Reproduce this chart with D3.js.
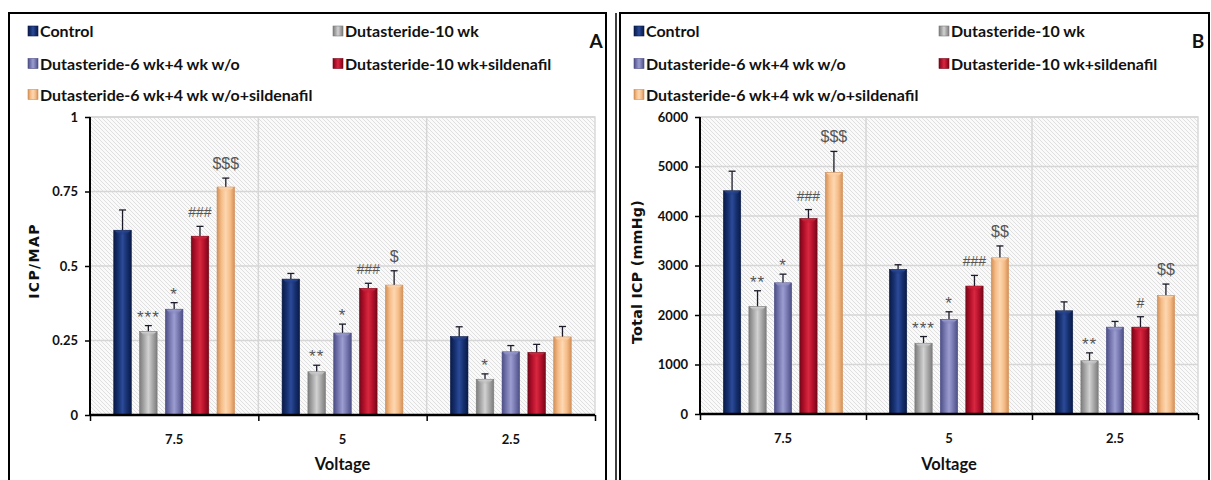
<!DOCTYPE html>
<html>
<head>
<meta charset="utf-8">
<script src="https://cdn.jsdelivr.net/npm/d3@7"></script>
<style>
  html, body { margin: 0; padding: 0; background: #fff; }
  svg { display: block; }
</style>
</head>
<body>
<svg id="chart" width="1211" height="480"></svg>
<script>
// Stimulation voltages on the x axis
const voltages = ["7.5", "5", "2.5"];

// Treatment groups (one bar per group inside each voltage)
const groups = [
  "Control",
  "Dutasteride-10 wk",
  "Dutasteride-6 wk+4 wk w/o",
  "Dutasteride-10 wk+sildenafil",
  "Dutasteride-6 wk+4 wk w/o+sildenafil"
];

// Panel A: ICP/MAP, mean and SEM per voltage, in group order
const icpMapMean = [
  [0.62, 0.28, 0.355, 0.60, 0.765],
  [0.456, 0.145, 0.275, 0.425, 0.436],
  [0.263, 0.12, 0.212, 0.21, 0.262]
];
const icpMapSem = [
  [0.068, 0.02, 0.022, 0.033, 0.03],
  [0.019, 0.022, 0.03, 0.017, 0.048],
  [0.033, 0.018, 0.021, 0.027, 0.035]
];
const icpMapMarks = [
  ["", "***", "*", "###", "$$$"],
  ["", "**", "*", "###", "$"],
  ["", "*", "", "", ""]
];
const icpMapTicks = [0, 0.25, 0.5, 0.75, 1];
const icpMapTickLabels = ["0", "0.25", "0.5", "0.75", "1"];

// Panel B: total ICP (mmHg), mean and SEM per voltage
const totalIcpMean = [
  [4510, 2170, 2650, 3950, 4880],
  [2920, 1430, 1910, 2585, 3155],
  [2085, 1075, 1755, 1755, 2395]
];
const totalIcpSem = [
  [395, 320, 175, 180, 425],
  [95, 135, 155, 215, 240],
  [180, 160, 115, 210, 230]
];
const totalIcpMarks = [
  ["", "**", "*", "###", "$$$"],
  ["", "***", "*", "###", "$$"],
  ["", "**", "", "#", "$$"]
];
const totalIcpTicks = [0, 1000, 2000, 3000, 4000, 5000, 6000];
const totalIcpTickLabels = ["0", "1000", "2000", "3000", "4000", "5000", "6000"];

// Bar palette: [edge, body, highlight]
const palette = [
  ["#0a1a48", "#16306e", "#2b4a99"],
  ["#7c7c7c", "#a6a6a6", "#d2d2d2"],
  ["#4c4e86", "#7476ad", "#9c9ed2"],
  ["#760818", "#b3102b", "#d8283f"],
  ["#d29058", "#f6bc87", "#fdd8b2"]
];

const svg = d3.select("#chart");
const defs = svg.append("defs");
const LABEL_FONT = "Lato, 'Open Sans', sans-serif";
const MARK_FONT = "'Liberation Sans', Arial, sans-serif";
const TITLE_FONT = "'DejaVu Sans', Verdana, sans-serif";

// Diagonal hatch for the plot area
const hatch = defs.append("pattern")
  .attr("id", "hatch").attr("patternUnits", "userSpaceOnUse")
  .attr("width", 4).attr("height", 4);
hatch.append("rect").attr("width", 4).attr("height", 4).attr("fill", "#fafafa");
hatch.append("path").attr("d", "M-1,-1L5,5M-1,3L1,5M3,-1L5,1")
  .attr("stroke", "#dcdcdc").attr("stroke-width", 0.9);

// Cylinder-like shading for each group colour
palette.forEach((c, i) => {
  const g = defs.append("linearGradient").attr("id", "bar" + i)
    .attr("x1", "0%").attr("x2", "100%").attr("y1", "0%").attr("y2", "0%");
  [[0, c[0]], [0.25, c[1]], [0.5, c[2]], [0.75, c[1]], [1, c[0]]].forEach(s =>
    g.append("stop").attr("offset", s[0]).attr("stop-color", s[1]));
  const cap = defs.append("linearGradient").attr("id", "cap" + i)
    .attr("x1", "0%").attr("x2", "0%").attr("y1", "0%").attr("y2", "100%");
  cap.append("stop").attr("offset", 0).attr("stop-color", c[2]);
  cap.append("stop").attr("offset", 1).attr("stop-color", c[1]).attr("stop-opacity", 0);
});

// Panel frames
svg.append("rect").attr("x", 9).attr("y", 13).attr("width", 597).attr("height", 480)
  .attr("fill", "none").attr("stroke", "#000").attr("stroke-width", 2);
svg.append("line").attr("x1", 616).attr("x2", 616).attr("y1", 13).attr("y2", 480)
  .attr("stroke", "#000").attr("stroke-width", 1.5);
svg.append("rect").attr("x", 620).attr("y", 13).attr("width", 589).attr("height", 480)
  .attr("fill", "none").attr("stroke", "#000").attr("stroke-width", 2);

function drawPanel(cfg) {
  const g = svg.append("g");
  const x = d3.scaleBand().domain(voltages).range([cfg.left, cfg.right]);
  const xi = d3.scaleBand().domain(d3.range(groups.length))
    .range([0, x.bandwidth()]).paddingInner(0.32).paddingOuter(0.92);
  const y = d3.scaleLinear().domain(cfg.domain).range([cfg.bottom, cfg.top]);

  // plot area
  g.append("rect").attr("x", cfg.left).attr("y", cfg.top)
    .attr("width", cfg.right - cfg.left).attr("height", cfg.bottom - cfg.top)
    .attr("fill", "url(#hatch)").attr("stroke", "#d9d9d9").attr("stroke-width", 1.5);

  // grid
  g.selectAll(".hgrid").data(cfg.ticks.slice(1)).enter().append("line")
    .attr("x1", cfg.left).attr("x2", cfg.right)
    .attr("y1", d => y(d)).attr("y2", d => y(d))
    .attr("stroke", "#d6d6d6").attr("stroke-width", 1.5);
  g.selectAll(".vgrid").data(voltages.slice(1)).enter().append("line")
    .attr("x1", d => x(d)).attr("x2", d => x(d))
    .attr("y1", cfg.top).attr("y2", cfg.bottom)
    .attr("stroke", "#d6d6d6").attr("stroke-width", 1.5);

  // bars
  voltages.forEach((v, vi) => {
    const gx = x(v);
    cfg.mean[vi].forEach((m, si) => {
      const bx = gx + xi(si), bw = xi.bandwidth();
      const top = y(m), err = y(m + cfg.sem[vi][si]);
      const cx = bx + bw / 2;
      // error bar (upper only)
      g.append("line").attr("x1", cx).attr("x2", cx).attr("y1", top).attr("y2", err)
        .attr("stroke", "#1b1b2a").attr("stroke-width", 1.3);
      g.append("line").attr("x1", cx - 3.5).attr("x2", cx + 3.5).attr("y1", err).attr("y2", err)
        .attr("stroke", "#1b1b2a").attr("stroke-width", 1.3);
      g.append("rect").attr("x", bx).attr("y", top).attr("width", bw)
        .attr("height", y(0) - top)
        .attr("fill", `url(#bar${si})`).attr("stroke", palette[si][0]).attr("stroke-width", 0.6);
      g.append("path")
        .attr("d", `M${bx + 1},${top + 0.5}L${bx + bw - 1},${top + 0.5}L${cx + 3},${top + 5}L${cx - 3},${top + 5}Z`)
        .attr("fill", `url(#cap${si})`);
      const mark = cfg.marks[vi][si];
      if (mark) {
        const star = mark[0] === "*";
        g.append("text").attr("x", cx).attr("y", err - (star ? 3 : 9))
          .attr("text-anchor", "middle")
          .attr("font-family", MARK_FONT)
          .attr("font-size", star ? 17 : (mark[0] === "$" ? 16 : 14))
          .attr("letter-spacing", star ? 1 : 0)
          .attr("fill", "#555").text(mark);
      }
    });
  });

  // axes
  const yAxis = d3.axisLeft(y).tickValues(cfg.ticks)
    .tickFormat((d, i) => cfg.tickLabels[i]).tickSize(5).tickPadding(7);
  const ya = g.append("g").attr("transform", `translate(${cfg.left},0)`).call(yAxis);
  ya.select(".domain").attr("stroke", "#000").attr("stroke-width", 2)
    .attr("d", `M0,${cfg.top}V${cfg.bottom}`);
  ya.selectAll(".tick line").attr("stroke", "#000").attr("stroke-width", 1.5);
  ya.selectAll("text").attr("font-family", LABEL_FONT).attr("font-weight", 700)
    .attr("font-size", 13).attr("fill", "#111");

  const xEdges = d3.axisBottom(d3.scaleLinear().domain([0, 3]).range([cfg.left, cfg.right]))
    .tickValues([0, 1, 2, 3]).tickFormat("").tickSize(6);
  const xa = g.append("g").attr("transform", `translate(0,${cfg.bottom})`).call(xEdges);
  xa.select(".domain").attr("stroke", "#000").attr("stroke-width", 2.5)
    .attr("d", `M${cfg.left},0H${cfg.right}`);
  xa.selectAll(".tick line").attr("stroke", "#000").attr("stroke-width", 1.5);

  const xLabels = d3.axisBottom(x).tickSize(0).tickPadding(20);
  const xl = g.append("g").attr("transform", `translate(0,${cfg.bottom})`).call(xLabels);
  xl.select(".domain").remove();
  xl.selectAll("text").attr("font-family", LABEL_FONT).attr("font-weight", 700)
    .attr("font-size", 13).attr("fill", "#111");

  // axis titles
  g.append("text").attr("x", (cfg.left + cfg.right) / 2).attr("y", 470)
    .attr("text-anchor", "middle").attr("font-family", LABEL_FONT)
    .attr("font-weight", 700).attr("font-size", 16.5).attr("fill", "#111").text("Voltage");
  g.append("text")
    .attr("transform", `translate(${cfg.yTitleX},${cfg.yTitleY}) rotate(-90)`)
    .attr("text-anchor", "middle").attr("font-family", TITLE_FONT)
    .attr("font-weight", 700).attr("font-size", cfg.yTitleSize)
    .attr("letter-spacing", cfg.yTitleSpacing).attr("fill", "#111").text(cfg.yTitle);

  // legend
  const cols = [cfg.legendX, cfg.legendX + 305];
  const rows = [37, 69.5, 100.5];
  groups.forEach((name, i) => {
    const lx = cols[i % 2], ly = rows[Math.floor(i / 2)];
    g.append("rect").attr("x", lx).attr("y", ly - 11).attr("width", 10).attr("height", 10)
      .attr("fill", `url(#bar${i})`).attr("stroke", palette[i][0]).attr("stroke-width", 0.6);
    g.append("text").attr("x", lx + 12).attr("y", ly)
      .attr("font-family", LABEL_FONT).attr("font-weight", 700).attr("font-size", 16)
      .attr("fill", "#111").text(name);
  });

  // panel letter
  g.append("text").attr("x", cfg.letterX).attr("y", 48).attr("text-anchor", "middle")
    .attr("font-family", LABEL_FONT).attr("font-weight", 700).attr("font-size", 19)
    .attr("fill", "#111").text(cfg.letter);
}

drawPanel({
  left: 90, right: 595, top: 117, bottom: 415,
  domain: [0, 1], ticks: icpMapTicks, tickLabels: icpMapTickLabels,
  mean: icpMapMean, sem: icpMapSem, marks: icpMapMarks,
  yTitle: "ICP/MAP", yTitleX: 38.5, yTitleY: 261, yTitleSize: 14, yTitleSpacing: 1.4,
  legendX: 28, letter: "A", letterX: 596
});

drawPanel({
  left: 700, right: 1198, top: 117, bottom: 414,
  domain: [0, 6000], ticks: totalIcpTicks, tickLabels: totalIcpTickLabels,
  mean: totalIcpMean, sem: totalIcpSem, marks: totalIcpMarks,
  yTitle: "Total ICP (mmHg)", yTitleX: 641.5, yTitleY: 272, yTitleSize: 14.2, yTitleSpacing: 0.3,
  legendX: 634, letter: "B", letterX: 1198
});
</script>
</body>
</html>
